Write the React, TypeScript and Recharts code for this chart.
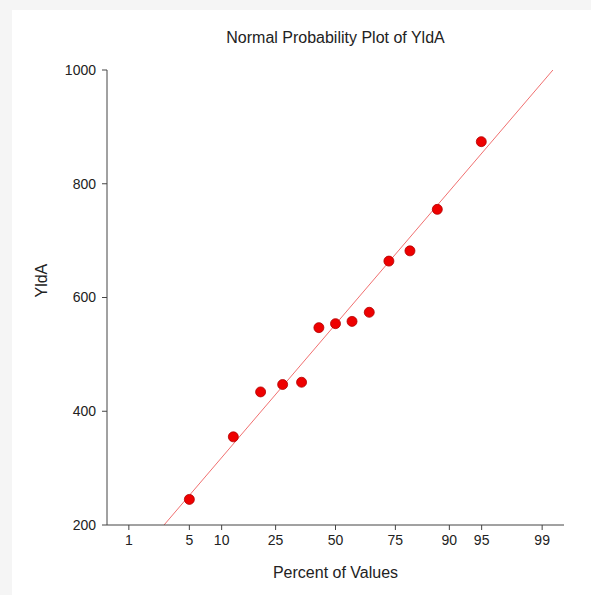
import { ScatterChart, Scatter, XAxis, YAxis, ReferenceLine, Label } from "recharts";

const Z_SCORES = [
  -1.645, -1.15, -0.843, -0.595, -0.382, -0.187, 0, 0.186, 0.38, 0.601, 0.838, 1.146, 1.641,
];
const YLDA = [245, 355, 434, 447, 451, 547, 554, 558, 574, 664, 682, 755, 874];

// percent tick labels and their z positions
const PCT_LABELS = ["1", "5", "10", "25", "50", "75", "90", "95", "99"];
const PCT_Z = [-2.326, -1.645, -1.2816, -0.674, 0, 0.674, 1.2816, 1.645, 2.326];

const Y_TICKS = [200, 400, 600, 800, 1000];

// fitted reference line end points
const FIT_Z = [-1.93, 2.447];
const FIT_Y = [200, 1000];

const points = Z_SCORES.map((z, i) => ({ z, y: YLDA[i] }));
const font = "Arial, 'Liberation Sans', sans-serif";

export default function App() {
  return (
    <div style={{ position: "absolute", left: 0, top: 0, width: 591, height: 595, background: "#f5f5f5" }}>
      <div style={{ position: "absolute", left: 12, top: 10, right: 0, bottom: 0, background: "#fff" }} />
      <div style={{ position: "absolute", left: 0, top: 0 }}>
        <ScatterChart width={591} height={595} margin={{ top: 70, right: 27, bottom: 40, left: 47 }}>
          <text x={335.5} y={43} textAnchor="middle" fontSize={16} fontFamily={font} fill="#222">
            Normal Probability Plot of YldA
          </text>
          <XAxis
            type="number"
            dataKey="z"
            domain={[-2.572, 2.572]}
            ticks={PCT_Z}
            tickFormatter={(v) => PCT_LABELS[PCT_Z.indexOf(v)] ?? ""}
            allowDataOverflow
            height={30}
            stroke="#444"
            tickSize={5}
            tickMargin={5}
            tick={{ fontSize: 14, fill: "#222", fontFamily: font }}
          >
            <Label value="Percent of Values" position="insideBottom" offset={-23} fontSize={16} fill="#222" fontFamily={font} />
          </XAxis>
          <YAxis
            type="number"
            dataKey="y"
            domain={[200, 1000]}
            ticks={Y_TICKS}
            allowDataOverflow
            width={60}
            stroke="#444"
            tickSize={5}
            tickMargin={6}
            tick={{ fontSize: 14, fill: "#222", fontFamily: font }}
          >
            <Label value="YldA" angle={-90} position="insideLeft" offset={-6} fontSize={16} fill="#222" fontFamily={font} />
          </YAxis>
          <ReferenceLine
            segment={[
              { x: FIT_Z[0], y: FIT_Y[0] },
              { x: FIT_Z[1], y: FIT_Y[1] },
            ]}
            stroke="#f07070"
            strokeWidth={1}
          />
          <Scatter
            data={points}
            isAnimationActive={false}
            shape={(p: any) => (
              <circle cx={p.cx} cy={p.cy} r={5} fill="#ee0000" stroke="#b00000" strokeWidth={0.8} />
            )}
          />
        </ScatterChart>
      </div>
    </div>
  );
}
